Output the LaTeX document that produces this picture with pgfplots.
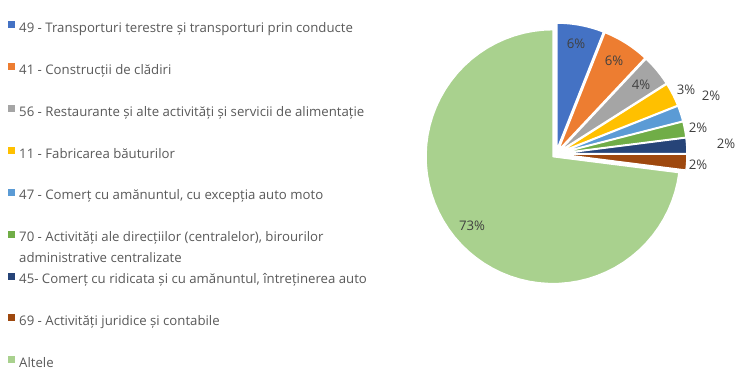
\documentclass[border=0pt]{standalone}
\usepackage{fontspec}
\setmainfont{Open Sans}
\usepackage{pgfplots}
\pgfplotsset{compat=1.18}
\definecolor{cA}{HTML}{4472C4}
\definecolor{cB}{HTML}{ED7D31}
\definecolor{cC}{HTML}{A5A5A5}
\definecolor{cD}{HTML}{FFC000}
\definecolor{cE}{HTML}{5B9BD5}
\definecolor{cF}{HTML}{70AD47}
\definecolor{cG}{HTML}{264478}
\definecolor{cH}{HTML}{9E480E}
\definecolor{cI}{HTML}{A9D18E}
\definecolor{lc}{HTML}{404040}
\definecolor{tc}{HTML}{595959}
% pie geometry (axis units = pt)
\def\cx{556}\def\cy{228}\def\rr{127}\def\ex{4}
\newcommand\fs{\fontsize{13.2}{16}\selectfont}
% slice values (percent)
\newcommand\defslice[3]{% name, cumulative before, value
  \expandafter\pgfmathsetmacro\csname s#1\endcsname{90-3.6*(#2)}%
  \expandafter\pgfmathsetmacro\csname e#1\endcsname{90-3.6*(#2+#3)}%
  \expandafter\pgfmathsetmacro\csname x#1\endcsname{\cx+\ex*cos(90-3.6*(#2+#3/2))}%
  \expandafter\pgfmathsetmacro\csname y#1\endcsname{\cy+\ex*sin(90-3.6*(#2+#3/2))}%
}
\defslice{A}{0}{6}
\defslice{B}{6}{6}
\defslice{C}{12}{4}
\defslice{D}{16}{3}
\defslice{E}{19}{2}
\defslice{F}{21}{2}
\defslice{G}{23}{2}
\defslice{H}{25}{2}
\defslice{I}{27}{73}
\newcommand\slice[2]{% name, colour
  \addplot[fill=#2, draw=white, line width=1.5pt, line join=round, domain=\csname e#1\endcsname:\csname s#1\endcsname, samples=60, variable=\t]
   ({\csname x#1\endcsname+\rr*cos(\t)},{\csname y#1\endcsname+\rr*sin(\t)}) -- (axis cs:\csname x#1\endcsname,\csname y#1\endcsname) -- cycle;
}
\begin{document}
\begin{tikzpicture}
\begin{axis}[
  scale only axis, width=743pt, height=382pt,
  xmin=0, xmax=743, ymin=0, ymax=382,
  hide axis, clip=false,
  legend cell align=left,
  legend image code/.code={\fill[#1, draw=none] (0pt,0.8pt) rectangle (7pt,7.8pt);},
  legend style={at={(axis cs:8,360.7)}, anchor=north west, draw=none, fill=none,
    inner sep=0pt, row sep=27.6pt, column sep=4pt,
    font=\fs, text=tc,
    nodes={inner sep=0pt, text height=9.7pt, text depth=3.2pt}},
]
\path (axis cs:0,0) rectangle (axis cs:743,382);
\slice{A}{cA}
\addlegendentry{49 - Transporturi terestre și transporturi prin conducte}
\slice{B}{cB}
\addlegendentry{41 - Construcții de clădiri}
\slice{C}{cC}
\addlegendentry{56 - Restaurante și alte activități și servicii de alimentație}
\slice{D}{cD}
\addlegendentry{11 - Fabricarea băuturilor}
\slice{E}{cE}
\addlegendentry{47 - Comerț cu amănuntul, cu excepția auto moto}
\slice{F}{cF}
\addlegendentry{\smash{\parbox[t]{340pt}{\fontsize{13.2}{21}\selectfont 70 - Activități ale direcțiilor (centralelor), birourilor\\administrative centralizate}}}
\slice{G}{cG}
\addlegendentry{45- Comerț cu ridicata și cu amănuntul, întreținerea auto}
\slice{H}{cH}
\addlegendentry{69 - Activități juridice și contabile}
\slice{I}{cI}
\addlegendentry{Altele}
\begin{scope}[every node/.style={font=\fs, text=lc, inner sep=0pt}]
\node at (axis cs:576,338) {6\%};
\node at (axis cs:614,321) {6\%};
\node at (axis cs:641,297) {4\%};
\node at (axis cs:686,292) {3\%};
\node at (axis cs:711,286) {2\%};
\node at (axis cs:698,254) {2\%};
\node at (axis cs:726,238) {2\%};
\node at (axis cs:698,217) {2\%};
\node at (axis cs:472,156) {73\%};
\end{scope}
\end{axis}
\end{tikzpicture}
\end{document}
